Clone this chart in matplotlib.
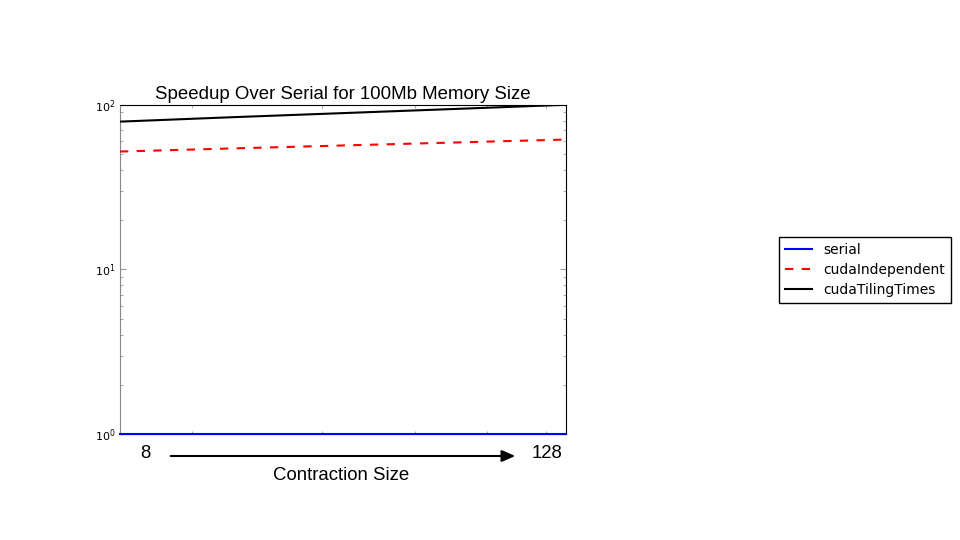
import numpy as np
import matplotlib
matplotlib.use("Agg")
import matplotlib.pyplot as plt

# Contraction sizes and speedups over serial (100Mb memory)
sizes = [8, 16, 32, 64, 128]
serial = [1.0, 1.0, 1.0, 1.0, 1.0]
cuda_independent = [52.0, 54.3, 56.6, 59.0, 61.5]
cuda_tiling = [79.0, 84.0, 89.0, 94.3, 100.0]

fig = plt.figure(figsize=(9.6, 5.4), dpi=100)
ax = fig.add_axes([0.125, 0.196, 0.465, 0.61])

# position the sizes on the log x axis (hidden labels)
xpos = np.sqrt(np.array(sizes) / 8.0) * 1.6

ax.plot(xpos, serial, color="blue", lw=1.5, label="serial", zorder=3, clip_on=False)
ax.plot(xpos, cuda_independent, color="red", lw=1.5, ls="--", dashes=(4, 4), label="cudaIndependent", zorder=3)
ax.plot(xpos, cuda_tiling, color="black", lw=1.5, label="cudaTilingTimes", zorder=3)

ax.set_xscale("log")
ax.set_yscale("log")
ax.set_xlim(1.6, 6.4)
ax.set_ylim(1, 100)
ax.xaxis.set_major_formatter(plt.NullFormatter())
ax.xaxis.set_minor_formatter(plt.NullFormatter())
ax.tick_params(which="both", direction="in", top=True, right=True, labelsize=8)
ax.tick_params(which="major", length=4, color="#999999")
ax.tick_params(which="minor", length=2, color="#999999")
ax.spines["left"].set_color("#888888")

ax.set_title("Speedup Over Serial for 100Mb Memory Size", family="Liberation Sans", fontsize=13.4, pad=4)

# x axis annotation: 8 ----> 128
fig.text(145 / 960, 1 - 454 / 540, "8", family="Liberation Sans", fontsize=13.4, ha="center", va="center")
fig.text(547 / 960, 1 - 454 / 540, "128", family="Liberation Sans", fontsize=13.4, ha="center", va="center")
fig.text(341 / 960, 1 - 475 / 540, "Contraction Size", family="Liberation Sans", fontsize=13.4, ha="center", va="center")
fig.add_artist(matplotlib.patches.FancyArrowPatch(
    (168 / 960, 1 - 456 / 540), (518 / 960, 1 - 456 / 540), transform=fig.transFigure,
    arrowstyle="-|>,head_length=8,head_width=3.5", color="black", lw=1.5, mutation_scale=1))

leg = fig.legend(loc="upper left", bbox_to_anchor=(779 / 960, 1 - 237 / 540), borderaxespad=0,
                 fontsize=10, fancybox=False, edgecolor="black", framealpha=1,
                 handlelength=2, borderpad=0.4, labelspacing=0.45)
leg.get_frame().set_linewidth(1.0)

fig.savefig("out.png", dpi=100)
